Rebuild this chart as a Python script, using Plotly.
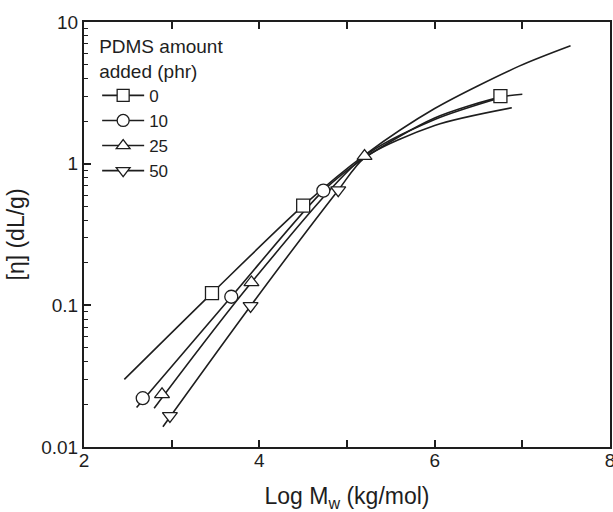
import plotly.graph_objects as go

# ---- data ----
series_names = ["0", "10", "25", "50"]
symbols = ["square-open", "circle-open", "triangle-up-open", "triangle-down-open"]

# fitted curves
curve0_x = [2.46, 3.46, 4.50, 5.20, 6.00, 6.97, 7.55]
curve0_y = [0.030, 0.122, 0.505, 1.15, 2.45, 4.9, 6.8]
curve10_x = [2.60, 3.68, 4.73, 5.20, 6.00, 6.75, 7.00]
curve10_y = [0.019, 0.115, 0.645, 1.10, 2.10, 2.95, 3.09]
curve25_x = [2.80, 3.91, 5.20, 6.00, 6.75]
curve25_y = [0.0188, 0.145, 1.13, 2.05, 2.92]
curve50_x = [2.90, 3.90, 4.90, 5.20, 6.00, 6.88]
curve50_y = [0.0139, 0.099, 0.65, 1.10, 1.86, 2.48]

# data points (markers)
pts0_x = [3.46, 4.50, 6.75]
pts0_y = [0.122, 0.505, 3.0]
pts10_x = [2.67, 3.68, 4.73]
pts10_y = [0.0221, 0.115, 0.645]
pts25_x = [2.89, 3.91, 5.20]
pts25_y = [0.0235, 0.145, 1.13]
pts50_x = [2.98, 3.90, 4.90]
pts50_y = [0.0166, 0.099, 0.65]

x_ticks = [2, 4, 6, 8]
y_ticks = [0.01, 0.1, 1, 10]
y_ticklabels = ["0.01", "0.1", "1", "10"]

curves = [(curve0_x, curve0_y), (curve10_x, curve10_y), (curve25_x, curve25_y), (curve50_x, curve50_y)]
points = [(pts0_x, pts0_y), (pts10_x, pts10_y), (pts25_x, pts25_y), (pts50_x, pts50_y)]

INK = "#1e1e1e"
FONT = "Liberation Sans, Arial, sans-serif"
msize = 13

fig = go.Figure()
for (cx, cy) in curves:
    fig.add_trace(go.Scatter(x=cx, y=cy, mode="lines", line=dict(color=INK, width=1.6, shape="spline", smoothing=0.8),
                             showlegend=False, hoverinfo="skip"))
for (px, py), sym in zip(points, symbols):
    base = sym.replace("-open", "")
    fig.add_trace(go.Scatter(x=px, y=py, mode="markers",
                             marker=dict(symbol=base, size=msize, color="white", line=dict(width=1.3, color=INK)),
                             showlegend=False))
# legend entries
for name, sym in zip(series_names, symbols):
    base = sym.replace("-open", "")
    fig.add_trace(go.Scatter(x=[None], y=[None], mode="lines+markers", name=name,
                             line=dict(color=INK, width=1.6),
                             marker=dict(symbol=base, size=12, color="white", line=dict(width=1.3, color=INK))))

fig.update_layout(
    width=613, height=512,
    margin=dict(l=84, r=3, t=22, b=65, autoexpand=False),
    paper_bgcolor="white", plot_bgcolor="white",
    font=dict(family=FONT, size=19, color=INK),
    showlegend=True,
    legend=dict(x=0.025, y=0.985, xanchor="left", yanchor="top",
                bgcolor="rgba(0,0,0,0)", font=dict(size=17),
                title=dict(text="PDMS amount<br>added (phr)", font=dict(size=19)),
                itemwidth=42, tracegroupgap=0),
    xaxis=dict(range=[2, 8], tickvals=x_ticks, ticks="inside", ticklen=7, tickwidth=1.5,
               tickcolor=INK, showline=True, linecolor=INK, linewidth=2, mirror="ticks",
               showgrid=False, zeroline=False, ticklabeloverflow="allow", automargin=False,
               ticklabelstandoff=-5,
               minor=dict(tickvals=[3, 5, 7], ticks="inside", ticklen=7, tickwidth=1.5, tickcolor=INK),
               title=dict(text="Log M<sub>w</sub> (kg/mol)", standoff=20)),
    yaxis=dict(type="log", range=[-2, 1], tickvals=y_ticks, ticktext=y_ticklabels,
               ticks="inside", ticklen=7, tickwidth=1.5, tickcolor=INK,
               showline=True, linecolor=INK, linewidth=2, mirror=True, automargin=False,
               showgrid=False, zeroline=False,
               minor=dict(ticks="inside", ticklen=4, tickwidth=1.2, tickcolor=INK, dtick="D1"),
               title=dict(text="[η] (dL/g)", standoff=10)),
)

fig.write_html("out.html")
